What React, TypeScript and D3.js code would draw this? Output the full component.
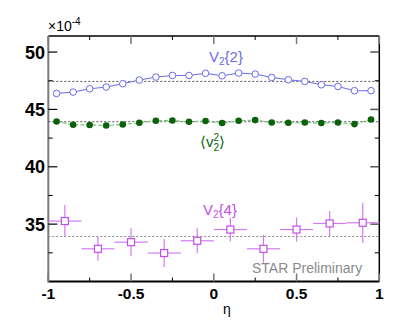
import React from 'react'
import * as d3 from 'd3'

// eta bin centres
const etaFine = [-0.95, -0.85, -0.75, -0.65, -0.55, -0.45, -0.35, -0.25, -0.15, -0.05,
  0.05, 0.15, 0.25, 0.35, 0.45, 0.55, 0.65, 0.75, 0.85, 0.95]
const etaCoarse = [-0.9, -0.7, -0.5, -0.3, -0.1, 0.1, 0.3, 0.5, 0.7, 0.9]

// values in units of 1e-4
const v22 = [46.39, 46.51, 46.80, 46.95, 47.24, 47.56, 47.82, 47.96, 47.96, 48.15,
  47.93, 48.17, 48.08, 47.79, 47.59, 47.44, 47.15, 47.0, 46.63, 46.63]
const v2sq = [43.95, 43.66, 43.64, 43.60, 43.69, 43.84, 44.01, 44.04, 43.92, 43.99,
  43.81, 44.01, 44.07, 43.86, 43.84, 43.86, 43.81, 43.86, 43.72, 44.12]
const v24 = [35.27, 32.85, 33.43, 32.48, 33.55, 34.53, 32.85, 34.53, 35.06, 35.12]
const v24err = [1.39, 1.05, 1.22, 1.22, 1.09, 1.02, 1.22, 1.05, 1.09, 1.74]
const etaHalfBin = 0.1

// average lines
const meanV22 = 47.44
const meanV2sq = 43.93
const meanV24 = 33.92

const xMajor = [-1, -0.5, 0, 0.5, 1]
const xMinor = [-0.75, -0.25, 0.25, 0.75]
const yMajor = [35, 40, 45, 50]
const yMinor = [32.5, 37.5, 42.5, 47.5]

const BLUE = '#6b6be8'
const GREEN_DARK = '#0a620a'
const GREEN_LINE = '#7cbf7c'
const MAGENTA = '#d27cf2'
const MAGENTA_DARK = '#c44ee8'

export default function App() {
  const W = 415
  const H = 329
  const frame = { left: 48.3, right: 379.3, top: 36, bottom: 281.5 }

  const x = d3.scaleLinear().domain([-1, 1]).range([frame.left, frame.right])
  const y = d3.scaleLinear().domain([30, 51.4]).range([frame.bottom, frame.top])

  const line = d3.line<number>().x((d, i) => x(etaFine[i])).y(d => y(d))
  const font = '"Liberation Sans", Arial, Helvetica, sans-serif'

  const sq = 3.5
  return (
    <svg width={W} height={H} viewBox={`0 0 ${W} ${H}`}
      style={{ position: 'absolute', left: 0, top: 0, background: '#fff' }}
      fontFamily={font}>
      {/* frame */}
      <line x1={frame.left} x2={frame.right} y1={frame.top} y2={frame.top} stroke="#000" strokeWidth={1.5} />
      <line x1={frame.right} x2={frame.right} y1={frame.top} y2={frame.bottom} stroke="#000" strokeWidth={1.5} />
      <line x1={frame.left} x2={frame.right} y1={frame.bottom} y2={frame.bottom} stroke="#000" strokeWidth={2} />
      <line x1={frame.left} x2={frame.left} y1={frame.top} y2={frame.bottom + 1} stroke="#7a7a7a" strokeWidth={2} />

      {/* x ticks */}
      {xMajor.map(t => (
        <g key={'xM' + t}>
          <line x1={x(t)} x2={x(t)} y1={frame.bottom} y2={frame.bottom - 8} stroke="#777" strokeWidth={1.5} />
          <line x1={x(t)} x2={x(t)} y1={frame.top} y2={frame.top + 8} stroke="#777" strokeWidth={1.5} />
          <text x={x(t)} y={299} textAnchor="middle" fontSize={15.5} fontWeight="bold">{t === 0 ? '0' : String(t)}</text>
        </g>
      ))}
      {xMinor.map(t => (
        <g key={'xm' + t}>
          <line x1={x(t)} x2={x(t)} y1={frame.bottom} y2={frame.bottom - 4} stroke="#000" strokeWidth={1} />
          <line x1={x(t)} x2={x(t)} y1={frame.top} y2={frame.top + 4} stroke="#000" strokeWidth={1} />
        </g>
      ))}

      {/* y ticks */}
      {yMajor.map(t => (
        <g key={'yM' + t}>
          <line x1={frame.left} x2={frame.left + 9} y1={y(t)} y2={y(t)} stroke="#000" strokeWidth={1.2} />
          <line x1={frame.right} x2={frame.right - 9} y1={y(t)} y2={y(t)} stroke="#555" strokeWidth={1.5} />
          <text x={45} y={y(t) + 6.5} textAnchor="end" fontSize={18} fontWeight="bold">{t}</text>
        </g>
      ))}
      {yMinor.map(t => (
        <g key={'ym' + t}>
          <line x1={frame.left} x2={frame.left + 4.5} y1={y(t)} y2={y(t)} stroke="#000" strokeWidth={1} />
          <line x1={frame.right} x2={frame.right - 4.5} y1={y(t)} y2={y(t)} stroke="#000" strokeWidth={1} />
        </g>
      ))}

      {/* exponent */}
      <text x={48} y={31} fontSize={14}>×10<tspan dy={-6} fontSize={10}>-4</tspan></text>

      {/* x title */}
      <text x={227} y={314} textAnchor="middle" fontSize={14}>η</text>

      {/* mean lines */}
      {[meanV22, meanV2sq, meanV24].map((m, i) => (
        <line key={'mean' + i} x1={frame.left} x2={frame.right} y1={y(m)} y2={y(m)}
          stroke={i === 2 ? '#888' : '#555'} strokeWidth={1} strokeDasharray="2,2" />
      ))}

      {/* V2{2} */}
      <path d={line(v22) ?? ''} fill="none" stroke={BLUE} strokeWidth={1} />
      {v22.map((v, i) => (
        <circle key={'b' + i} cx={x(etaFine[i])} cy={y(v)} r={3.3} fill="#fff" stroke={BLUE} strokeWidth={1} />
      ))}

      {/* <v2^2> */}
      <path d={line(v2sq) ?? ''} fill="none" stroke={GREEN_LINE} strokeWidth={1.2} strokeDasharray="4,2" />
      {v2sq.map((v, i) => (
        <circle key={'g' + i} cx={x(etaFine[i])} cy={y(v)} r={3.3} fill={GREEN_DARK} />
      ))}

      {/* V2{4} */}
      {v24.map((v, i) => {
        const cx = x(etaCoarse[i])
        const cy = y(v)
        return (
          <g key={'m' + i}>
            <line x1={x(etaCoarse[i] - etaHalfBin)} x2={cx - sq} y1={cy} y2={cy} stroke={MAGENTA} strokeWidth={1.2} />
            <line x1={cx + sq} x2={x(etaCoarse[i] + etaHalfBin)} y1={cy} y2={cy} stroke={MAGENTA} strokeWidth={1.2} />
            <line x1={cx} x2={cx} y1={y(v + v24err[i])} y2={cy - sq} stroke={MAGENTA} strokeWidth={1.2} />
            <line x1={cx} x2={cx} y1={cy + sq} y2={y(v - v24err[i])} stroke={MAGENTA} strokeWidth={1.2} />
            <rect x={cx - sq} y={cy - sq} width={2 * sq} height={2 * sq} fill="#fff" stroke={MAGENTA_DARK} strokeWidth={1.2} />
          </g>
        )
      })}

      {/* labels */}
      <text x={209} y={62} fontSize={15} fill={BLUE}>V<tspan dy={3} fontSize={10}>2</tspan><tspan dy={-3}>{'{2}'}</tspan></text>
      <text x={200} y={147} fontSize={15} fill={GREEN_DARK}>⟨v<tspan dy={-6} fontSize={10}>2</tspan><tspan dx={-5.5} dy={10} fontSize={10}>2</tspan><tspan dy={-4}>⟩</tspan></text>
      <text x={203} y={215} fontSize={15} fill={MAGENTA_DARK}>V<tspan dy={3} fontSize={10}>2</tspan><tspan dy={-3}>{'{4}'}</tspan></text>
      <text x={252} y={273} fontSize={14} fill="#8a8a8a">STAR Preliminary</text>
    </svg>
  )
}
